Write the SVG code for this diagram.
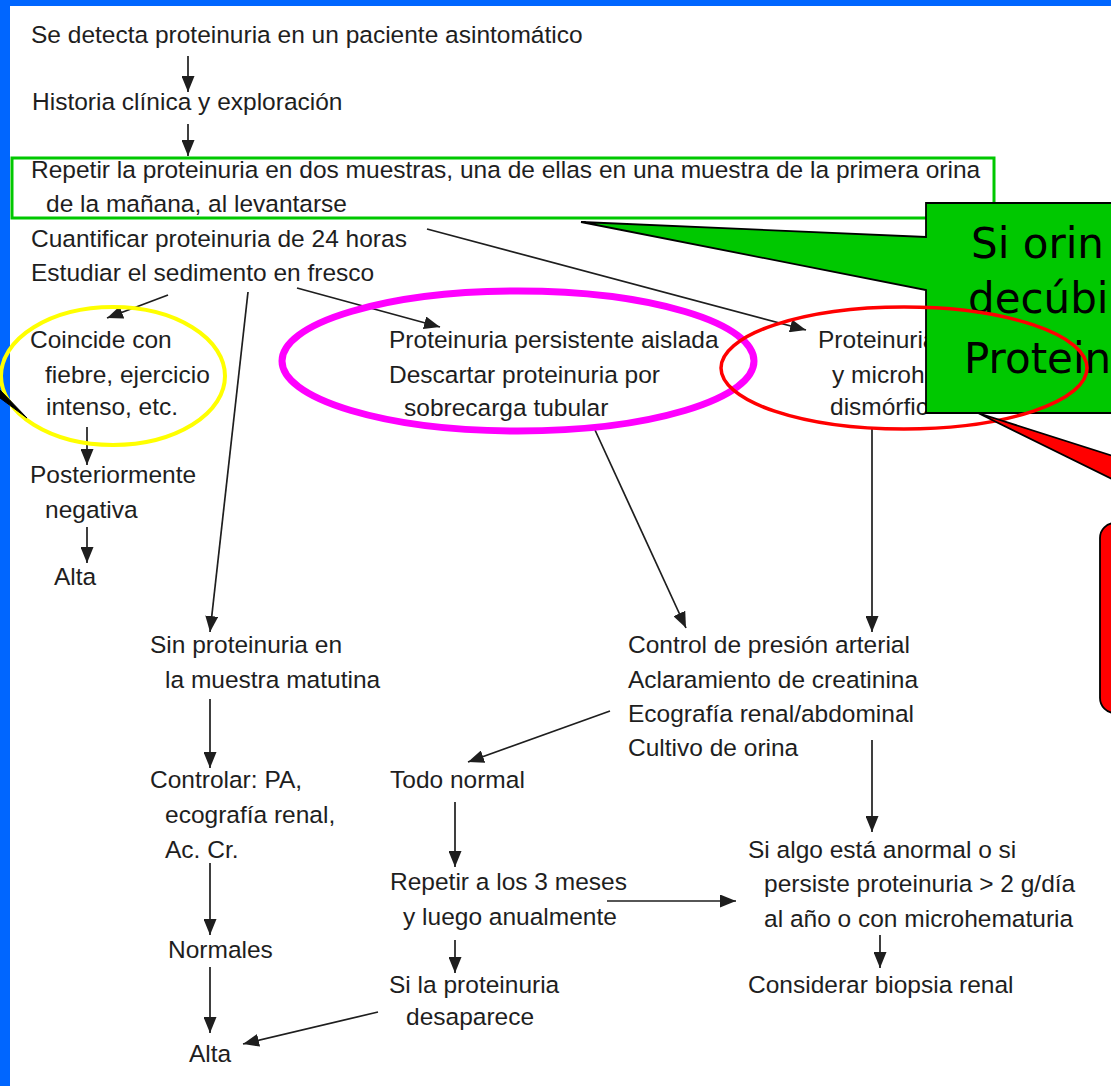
<svg xmlns="http://www.w3.org/2000/svg" width="1111" height="1086" viewBox="0 0 1111 1086">
<defs>
<style>
text{font-family:"Liberation Sans",Arial,sans-serif;font-size:24.5px;fill:#1e1e1e}
.c line{stroke:#1e1e1e;stroke-width:1.7;marker-end:url(#ah)}
.callout{font-family:"DejaVu Sans","Liberation Sans",sans-serif;font-size:42px;fill:#000}
</style>
<marker id="ah" markerUnits="userSpaceOnUse" markerWidth="16" markerHeight="13" refX="16" refY="6.5" orient="auto">
<path d="M0,0 L16,6.5 L0,13 z" fill="#1e1e1e"/>
</marker>
</defs>
<rect x="0" y="0" width="1111" height="1086" fill="#fff"/>
<rect x="0" y="0" width="1111" height="6" fill="#0066ff"/>
<rect x="0" y="0" width="10" height="1086" fill="#0066ff"/>

<g id="n1"><text x="31" y="43">Se detecta proteinuria en un paciente asintomático</text></g>
<g id="n2"><text x="32" y="110">Historia clínica y exploración</text></g>
<g id="n3">
<rect x="12" y="158" width="982" height="60" fill="none" stroke="#00c800" stroke-width="3"/>
<text x="31" y="178">Repetir la proteinuria en dos muestras, una de ellas en una muestra de la primera orina</text>
<text x="46" y="212">de la mañana, al levantarse</text>
</g>
<g id="n4">
<text x="31" y="247">Cuantificar proteinuria de 24 horas</text>
<text x="31" y="281">Estudiar el sedimento en fresco</text>
</g>
<g id="n5">
<text x="30" y="348">Coincide con</text>
<text x="45" y="383">fiebre, ejercicio</text>
<text x="46" y="415">intenso, etc.</text>
</g>
<g id="n6">
<text x="30" y="483">Posteriormente</text>
<text x="45" y="518">negativa</text>
</g>
<g id="n7"><text x="54" y="585">Alta</text></g>
<g id="n8">
<text x="389" y="348">Proteinuria persistente aislada</text>
<text x="389" y="383">Descartar proteinuria por</text>
<text x="404" y="416">sobrecarga tubular</text>
</g>
<g id="n9">
<text x="818" y="348">Proteinuria</text>
<text x="832" y="383">y microh</text>
<text x="830" y="415">dismórfic</text>
</g>
<g id="n10">
<text x="150" y="653">Sin proteinuria en</text>
<text x="165" y="688">la muestra matutina</text>
</g>
<g id="n11">
<text x="628" y="653">Control de presión arterial</text>
<text x="628" y="688">Aclaramiento de creatinina</text>
<text x="628" y="722">Ecografía renal/abdominal</text>
<text x="628" y="756">Cultivo de orina</text>
</g>
<g id="n12">
<text x="150" y="788">Controlar: PA,</text>
<text x="165" y="823">ecografía renal,</text>
<text x="165" y="858">Ac. Cr.</text>
</g>
<g id="n13"><text x="390" y="788">Todo normal</text></g>
<g id="n14"><text x="168" y="958">Normales</text></g>
<g id="n15"><text x="189" y="1062">Alta</text></g>
<g id="n16">
<text x="390" y="890">Repetir a los 3 meses</text>
<text x="403" y="925">y luego anualmente</text>
</g>
<g id="n17">
<text x="389" y="993">Si la proteinuria</text>
<text x="406" y="1025">desaparece</text>
</g>
<g id="n18">
<text x="748" y="858">Si algo está anormal o si</text>
<text x="764" y="892">persiste proteinuria &gt; 2 g/día</text>
<text x="764" y="927">al año o con microhematuria</text>
</g>
<g id="n19"><text x="748" y="993">Considerar biopsia renal</text></g>

<g id="connectors" class="c">
<line x1="188" y1="56" x2="188" y2="92"/>
<line x1="188" y1="124" x2="188" y2="156"/>
<line x1="427" y1="229" x2="806" y2="330"/>
<line x1="168" y1="295" x2="107" y2="318"/>
<line x1="248" y1="292" x2="210" y2="632"/>
<line x1="297" y1="288" x2="440" y2="327"/>
<line x1="87" y1="427" x2="87" y2="465"/>
<line x1="87" y1="527" x2="87" y2="563"/>
<line x1="595" y1="430" x2="686" y2="628"/>
<line x1="872" y1="427" x2="872" y2="632"/>
<line x1="610" y1="711" x2="468" y2="762"/>
<line x1="872" y1="740" x2="872" y2="832"/>
<line x1="880" y1="935" x2="880" y2="968"/>
<line x1="607" y1="901" x2="736" y2="901"/>
<line x1="210" y1="699" x2="210" y2="768"/>
<line x1="210" y1="863" x2="210" y2="935"/>
<line x1="210" y1="967" x2="210" y2="1033"/>
<line x1="455" y1="802" x2="455" y2="867"/>
<line x1="455" y1="940" x2="455" y2="973"/>
<line x1="378" y1="1012" x2="243" y2="1044"/>
</g>

<g id="highlights">
<ellipse cx="113" cy="376" rx="112" ry="69" fill="none" stroke="#ffff00" stroke-width="4"/>
<ellipse cx="518" cy="361" rx="236" ry="70" fill="none" stroke="#ff00ff" stroke-width="7"/>
</g>

<g id="callout-green">
<path d="M926,203 H1116 V413 H926 V290 L581,222 L926,237 Z" fill="#00c800" stroke="#000" stroke-width="1.8"/>
<text class="callout" x="971" y="258">Si orin</text>
<text class="callout" x="968" y="313">decúbi</text>
<text class="callout" x="964" y="373">Protein</text>
</g>

<g id="red-ellipse">
<ellipse cx="904" cy="368" rx="183" ry="61" fill="none" stroke="#ff0000" stroke-width="3.5"/>
</g>

<g id="callout-red">
<path d="M978,413 L1116,457 L1116,481 Z" fill="#ff0000" stroke="#000" stroke-width="1.8"/>
<rect x="1100" y="523" width="40" height="190" rx="15" fill="#ff0000" stroke="#000" stroke-width="1.8"/>
</g>

<g id="left-tail">
<path d="M0,390 L27,418 L0,398 Z" fill="#000" stroke="#000" stroke-width="1"/>
</g>
</svg>
